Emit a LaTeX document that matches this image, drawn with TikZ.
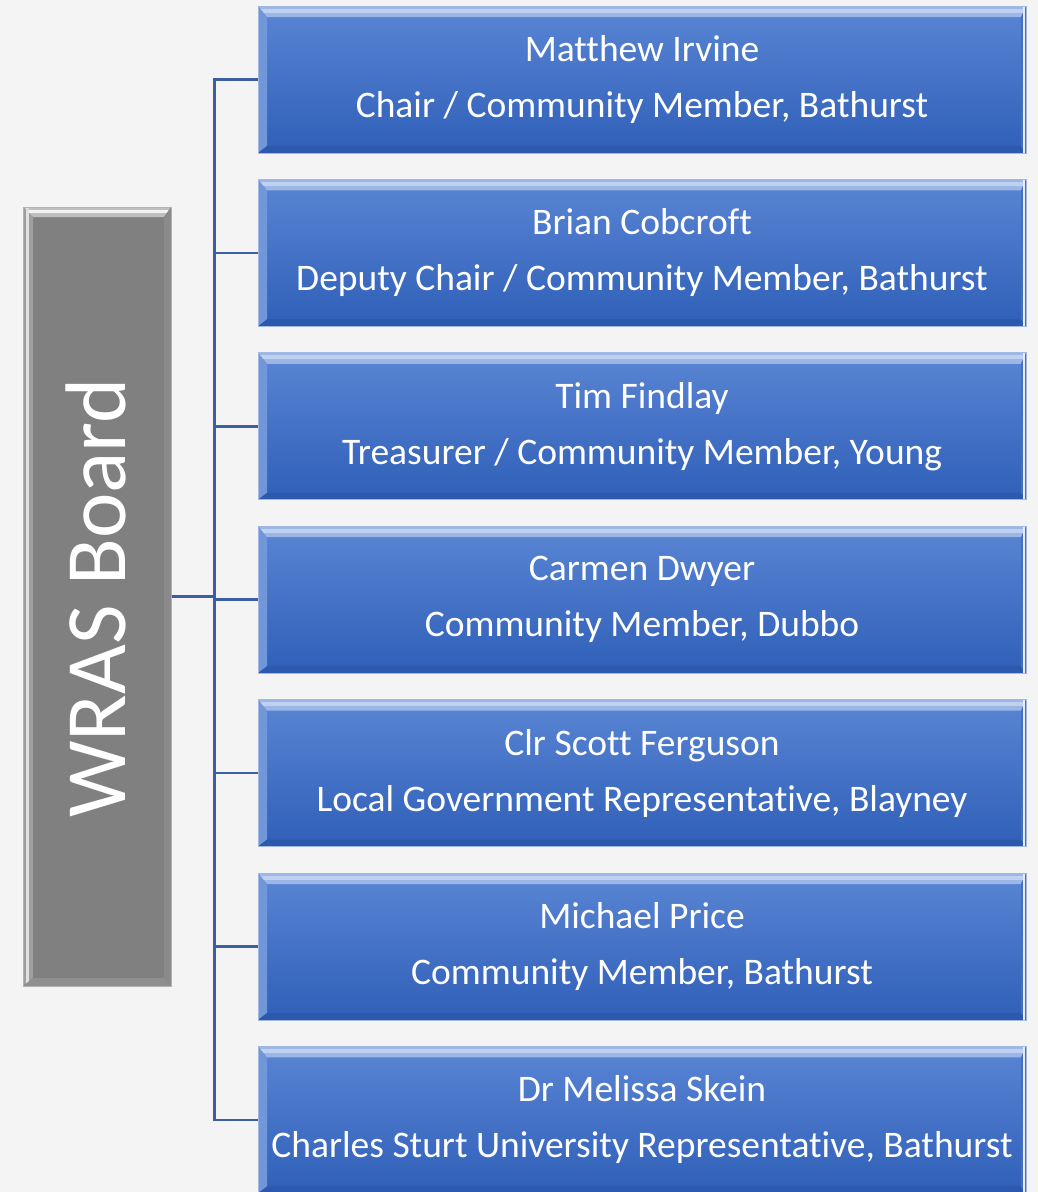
\documentclass[tikz,border=0pt]{standalone}
\usepackage{fontspec}
\setmainfont[Ligatures=NoCommon]{Carlito}
\usetikzlibrary{positioning,calc}
\definecolor{pagecolor}{RGB}{244,244,244}
\definecolor{membertop}{RGB}{90,133,212}
\definecolor{memberbot}{RGB}{47,95,184}
\definecolor{memberedge}{RGB}{160,184,226}
\definecolor{linkcolor}{RGB}{58,94,166}
\definecolor{boardgray}{RGB}{128,128,128}

\begin{document}
\begin{tikzpicture}[
    x=1pt, y=1pt,
    member/.style={rectangle, draw=memberedge, line width=1pt, minimum width=768pt, minimum height=147pt, inner sep=0pt,
        top color=membertop, bottom color=memberbot, text=white, align=center,
        font=\fontsize{37.5}{56}\selectfont,
        path picture={
            \fill[white!40!membertop] (path picture bounding box.north west) -- (path picture bounding box.north east)
                -- ([shift={(-5pt,-11pt)}]path picture bounding box.north east) -- ([shift={(9pt,-11pt)}]path picture bounding box.north west) -- cycle;
            \fill[white!62!membertop] ([yshift=-2.5pt]path picture bounding box.north west) rectangle ([shift={(-2pt,-6.5pt)}]path picture bounding box.north east);
            \fill[white!14!membertop] (path picture bounding box.north west) -- ([shift={(9pt,-11pt)}]path picture bounding box.north west)
                -- ([shift={(9pt,7pt)}]path picture bounding box.south west) -- (path picture bounding box.south west) -- cycle;
            \fill[black!6!memberbot] (path picture bounding box.south west) -- ([shift={(9pt,7pt)}]path picture bounding box.south west)
                -- ([shift={(-5pt,7pt)}]path picture bounding box.south east) -- (path picture bounding box.south east) -- cycle;
            \fill[white!10!memberbot] (path picture bounding box.north east) -- ([shift={(-5pt,-11pt)}]path picture bounding box.north east)
                -- ([shift={(-5pt,7pt)}]path picture bounding box.south east) -- (path picture bounding box.south east) -- cycle;
            \fill[white!85!membertop] ([xshift=-3pt]path picture bounding box.north east) rectangle ([xshift=-1.2pt]path picture bounding box.south east);
        }},
    board/.style={rectangle, draw=black!30, line width=1pt, minimum width=148pt, minimum height=779pt, inner sep=0pt,
        fill=boardgray, text=white,
        path picture={
            \fill[black!25] (path picture bounding box.north west) -- (path picture bounding box.north east)
                -- ([shift={(-7pt,-10pt)}]path picture bounding box.north east) -- ([shift={(10pt,-10pt)}]path picture bounding box.north west) -- cycle;
            \fill[white!95!black] ([yshift=-3pt]path picture bounding box.north west) rectangle ([shift={(-2pt,-5.5pt)}]path picture bounding box.north east);
            \fill[black!38] (path picture bounding box.north west) -- ([shift={(10pt,-10pt)}]path picture bounding box.north west)
                -- ([shift={(10pt,8pt)}]path picture bounding box.south west) -- (path picture bounding box.south west) -- cycle;
            \fill[black!12] ([xshift=3pt]path picture bounding box.north west) rectangle ([xshift=6pt]path picture bounding box.south west);
            \fill[black!44] (path picture bounding box.south west) -- ([shift={(10pt,8pt)}]path picture bounding box.south west)
                -- ([shift={(-7pt,8pt)}]path picture bounding box.south east) -- (path picture bounding box.south east) -- cycle;
            \fill[black!46] (path picture bounding box.north east) -- ([shift={(-7pt,-10pt)}]path picture bounding box.north east)
                -- ([shift={(-7pt,8pt)}]path picture bounding box.south east) -- (path picture bounding box.south east) -- cycle;
        }},
    link/.style={draw=linkcolor, line width=2.5pt}
]

% Page
\fill[pagecolor] (0,0) rectangle (1038,-1192);
\useasboundingbox (0,0) rectangle (1038,-1192);

% Board
\node[board] (board) at (97,-596.5) {};
\node[rotate=90, text=white, font=\fontsize{86}{90}\selectfont] (boardtitle) at (96,-598) {WRAS Board};

% Members
\foreach \name/\role [count=\i] in {
    Matthew Irvine/{Chair / Community Member, Bathurst},
    Brian Cobcroft/{Deputy Chair / Community Member, Bathurst},
    Tim Findlay/{Treasurer / Community Member, Young},
    Carmen Dwyer/{Community Member, Dubbo},
    Clr Scott Ferguson/{Local Government Representative, Blayney},
    Michael Price/{Community Member, Bathurst},
    Dr Melissa Skein/{Charles Sturt University Representative, Bathurst}} {
    \node[member] (m\i) at (642,{-79.5-173.4*(\i-1)}) {\name\\\role};
}

% Connectors
\coordinate (trunk) at ($(board.east)+(43,0)$);
\foreach \i in {1,...,7} {
    \draw[link] (board.east) -- (trunk) |- (m\i.west);
}

\end{tikzpicture}
\end{document}
